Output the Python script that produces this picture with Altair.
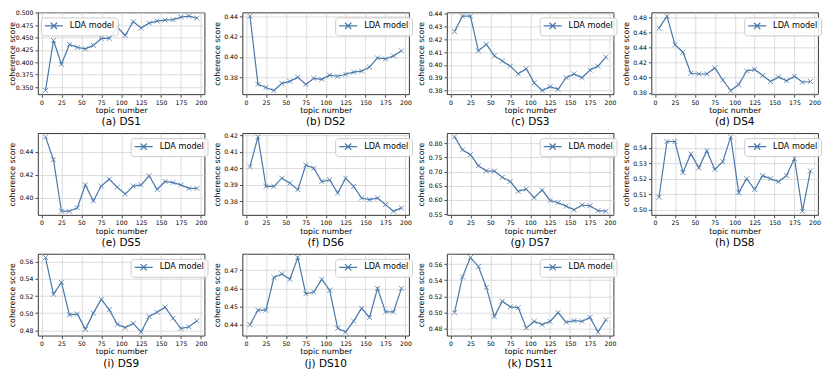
import altair as alt
import pandas as pd

topics = [5, 15, 25, 35, 45, 55, 65, 75, 85, 95, 105, 115, 125, 135, 145, 155, 165, 175, 185, 195]

ds1 = [0.343, 0.444, 0.396, 0.436, 0.430, 0.427, 0.434, 0.448, 0.448, 0.471, 0.454, 0.482, 0.469, 0.479, 0.483, 0.485, 0.486, 0.491, 0.493, 0.489]
ds2 = [0.440, 0.373, 0.370, 0.367, 0.374, 0.376, 0.380, 0.373, 0.379, 0.378, 0.382, 0.381, 0.383, 0.385, 0.386, 0.390, 0.399, 0.398, 0.401, 0.406]
ds3 = [0.426, 0.438, 0.438, 0.411, 0.416, 0.407, 0.403, 0.399, 0.393, 0.397, 0.386, 0.380, 0.383, 0.381, 0.390, 0.393, 0.390, 0.396, 0.399, 0.406]
ds4 = [0.466, 0.482, 0.444, 0.434, 0.406, 0.405, 0.405, 0.413, 0.397, 0.383, 0.391, 0.409, 0.411, 0.403, 0.395, 0.401, 0.396, 0.402, 0.394, 0.395]
ds5 = [0.453, 0.433, 0.388, 0.388, 0.391, 0.411, 0.397, 0.410, 0.416, 0.409, 0.403, 0.410, 0.411, 0.419, 0.407, 0.414, 0.413, 0.411, 0.408, 0.408]
ds6 = [0.401, 0.419, 0.389, 0.389, 0.394, 0.391, 0.387, 0.402, 0.400, 0.392, 0.393, 0.385, 0.394, 0.389, 0.382, 0.381, 0.382, 0.378, 0.374, 0.376]
ds7 = [0.823, 0.777, 0.760, 0.721, 0.703, 0.702, 0.680, 0.665, 0.630, 0.638, 0.608, 0.635, 0.598, 0.590, 0.578, 0.565, 0.582, 0.579, 0.562, 0.560]
ds8 = [0.508, 0.544, 0.544, 0.524, 0.536, 0.527, 0.538, 0.526, 0.531, 0.547, 0.511, 0.520, 0.513, 0.522, 0.520, 0.518, 0.522, 0.533, 0.499, 0.525]
ds9 = [0.565, 0.522, 0.536, 0.498, 0.499, 0.481, 0.500, 0.516, 0.504, 0.487, 0.483, 0.488, 0.478, 0.496, 0.501, 0.507, 0.494, 0.482, 0.484, 0.491]
ds10 = [0.440, 0.448, 0.448, 0.466, 0.468, 0.465, 0.477, 0.457, 0.458, 0.465, 0.459, 0.438, 0.436, 0.442, 0.449, 0.444, 0.460, 0.447, 0.447, 0.460]
ds11 = [0.500, 0.544, 0.568, 0.557, 0.531, 0.495, 0.514, 0.507, 0.506, 0.481, 0.489, 0.485, 0.489, 0.500, 0.488, 0.490, 0.489, 0.494, 0.476, 0.491]

series = [ds1, ds2, ds3, ds4, ds5, ds6, ds7, ds8, ds9, ds10, ds11]
captions = ["(a) DS1", "(b) DS2", "(c) DS3", "(d) DS4", "(e) DS5", "(f) DS6",
            "(g) DS7", "(h) DS8", "(i) DS9", "(j) DS10", "(k) DS11"]
y_ticks = [
    [0.350, 0.375, 0.400, 0.425, 0.450, 0.475, 0.500],
    [0.38, 0.40, 0.42, 0.44],
    [0.38, 0.39, 0.40, 0.41, 0.42, 0.43, 0.44],
    [0.38, 0.40, 0.42, 0.44, 0.46, 0.48],
    [0.40, 0.42, 0.44],
    [0.38, 0.39, 0.40, 0.41, 0.42],
    [0.55, 0.60, 0.65, 0.70, 0.75, 0.80],
    [0.50, 0.51, 0.52, 0.53, 0.54],
    [0.48, 0.50, 0.52, 0.54, 0.56],
    [0.44, 0.45, 0.46, 0.47],
    [0.48, 0.50, 0.52, 0.54, 0.56],
]
y_formats = [".3f"] + [".2f"] * 10
legend_left = [True] + [False] * 10
x_ticks = [0, 25, 50, 75, 100, 125, 150, 175, 200]

FONT = "DejaVu Sans"
W, H = 167, 82
LINE = "#4a78aa"
X_PATH = "M-1,-1L1,1M-1,1L1,-1"
LEG_PATH = "M-1,0L3,0M0.3,-0.7L1.7,0.7M0.3,0.7L1.7,-0.7"


def panel(vals, caption, ticks, fmt, left):
    df = pd.DataFrame({"topic": topics, "score": vals, "model": "LDA model"})
    lo, hi = min(vals), max(vals)
    pad = 0.05 * (hi - lo)
    xenc = alt.X(
        "topic:Q",
        scale=alt.Scale(domain=[-4.5, 204.5], nice=False, zero=False),
        axis=alt.Axis(values=x_ticks, title="topic number", format="d",
                      labelFlush=False, labelOverlap=False),
    )
    yenc = alt.Y(
        "score:Q",
        scale=alt.Scale(domain=[lo - pad, hi + pad], nice=False, zero=False),
        axis=alt.Axis(values=ticks, format=fmt, title="coherence score",
                      minExtent=20, maxExtent=20, titlePadding=1,
                      labelFlush=False, labelOverlap=False),
    )
    legend = alt.Legend(
        title=None, orient="none",
        legendX=3 if left else W - 74, legendY=5,
        symbolType=LEG_PATH, symbolSize=81,
        symbolStrokeColor=LINE, symbolFillColor="transparent",
        symbolStrokeWidth=1.2, labelOffset=15,
        labelFont=FONT, labelFontSize=8.2, labelColor="#000000",
        padding=3, fillColor="rgba(255,255,255,0.85)",
        strokeColor="#cccccc", cornerRadius=3,
    )
    line = alt.Chart(df).mark_line(strokeWidth=1.2).encode(
        x=xenc, y=yenc,
        color=alt.Color("model:N", scale=alt.Scale(range=[LINE]), legend=legend),
    )
    pts = alt.Chart(df).mark_point(
        shape=X_PATH, filled=False, size=24, strokeWidth=1,
        color=LINE, opacity=0.8,
    ).encode(x=xenc, y=yenc)
    return alt.layer(line, pts).properties(
        width=W, height=H,
        title=alt.TitleParams(caption, orient="bottom", anchor="middle",
                              font=FONT, fontSize=10.5, fontWeight="normal",
                              color="#000000", offset=3),
    )


panels = [panel(series[i], captions[i], y_ticks[i], y_formats[i], legend_left[i])
          for i in range(len(series))]

chart = alt.concat(
    *panels, columns=4, spacing={"row": 39, "column": 38}, bounds="flush"
).resolve_scale(
    x="independent", y="independent", color="independent"
).resolve_legend(
    color="independent"
).properties(
    padding=0
).configure_view(
    stroke="#222222", strokeWidth=0.9
).configure_title(
    font=FONT, fontWeight="normal", color="#000000"
).configure_axis(
    domain=False, ticks=True, tickColor="#222222", tickSize=3, tickWidth=0.8,
    labelFont=FONT, labelFontSize=6.2, labelColor="#000000", labelPadding=2,
    grid=True, gridColor="#d3d3d3", gridWidth=0.8,
    titleFont=FONT, titleFontSize=7.8, titleFontWeight="normal",
    titleColor="#000000",
).configure_axisX(
    titlePadding=1
)

chart.save("out.html", embed_options={"renderer": "svg", "actions": False})
